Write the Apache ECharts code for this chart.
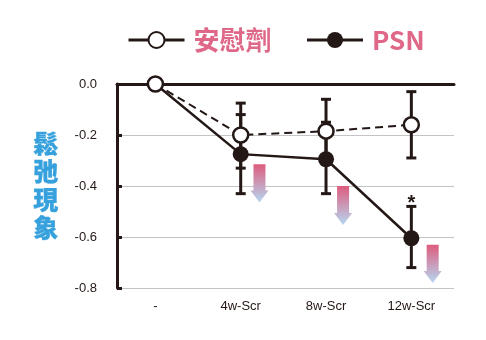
<!DOCTYPE html>
<html>
<head>
<meta charset="utf-8">
<script src="https://cdn.jsdelivr.net/npm/echarts@6/dist/echarts.min.js"></script>
<style>
  html, body { margin: 0; padding: 0; background: #fff; }
  #chart { width: 486px; height: 340px; }
</style>
</head>
<body>
<div id="chart"></div>
<script>
// Time points
const categories = ['-', '4w-Scr', '8w-Scr', '12w-Scr'];

// Mean change and error-bar ends (upper, lower) for each group
const placeboMean  = [0, -0.20, -0.185, -0.16];
const placeboUpper = [null, -0.075, -0.06, -0.03];
const placeboLower = [null, -0.33, -0.315, -0.29];

const psnMean  = [0, -0.275, -0.295, -0.605];
const psnUpper = [null, -0.12, -0.15, -0.48];
const psnLower = [null, -0.43, -0.43, -0.72];

// Significance marks above the PSN error bars
const psnMarks = ['', '', '', '*'];

// Decorative downward arrows: x position, top value, bottom value
const arrowX      = [1.22, 2.2, 3.25];
const arrowTop    = [-0.315, -0.40, -0.63];
const arrowBottom = [-0.465, -0.553, -0.78];

const yTicks = [0, -0.2, -0.4, -0.6, -0.8];

const INK = '#231815';
const PINK = '#df6889';
const BLUE = '#36a1dc';

function pairs(means) { return means.map((v, i) => [i, v]); }
function bars(upper, lower, marks) {
  const out = [];
  upper.forEach((u, i) => {
    if (u !== null) out.push([i, u, lower[i], marks ? marks[i] : '']);
  });
  return out;
}

function renderErrorBar(params, api) {
  const x = api.value(0);
  const top = api.coord([x, api.value(1)]);
  const bot = api.coord([x, api.value(2)]);
  const hw = 5;
  const style = { stroke: INK, lineWidth: 3 };
  const children = [
    { type: 'line', shape: { x1: top[0], y1: top[1], x2: bot[0], y2: bot[1] }, style },
    { type: 'line', shape: { x1: top[0] - hw, y1: top[1], x2: top[0] + hw, y2: top[1] }, style },
    { type: 'line', shape: { x1: bot[0] - hw, y1: bot[1], x2: bot[0] + hw, y2: bot[1] }, style }
  ];
  const mark = api.value(3);
  if (mark) {
    children.push({
      type: 'text',
      style: {
        text: mark, x: top[0], y: top[1] + 7,
        align: 'center', verticalAlign: 'bottom',
        fill: INK, font: 'bold 20px "Liberation Sans", Arial, sans-serif'
      }
    });
  }
  return { type: 'group', children };
}

function renderArrow(params, api) {
  const x = api.value(0);
  const t = api.coord([x, api.value(1)]);
  const b = api.coord([x, api.value(2)]);
  const shaft = 6, head = 9, headH = 12;
  const cx = t[0];
  const hy = b[1] - headH;
  return {
    type: 'polygon',
    shape: {
      points: [
        [cx - shaft, t[1]], [cx + shaft, t[1]], [cx + shaft, hy],
        [cx + head, hy], [cx, b[1]], [cx - head, hy], [cx - shaft, hy]
      ]
    },
    style: {
      fill: new echarts.graphic.LinearGradient(0, 0, 0, 1, [
        { offset: 0, color: '#dd5c7d' },
        { offset: 1, color: '#b6d7f1' }
      ])
    }
  };
}

const chart = echarts.init(document.getElementById('chart'), null, { renderer: 'canvas' });

chart.setOption({
  animation: false,
  backgroundColor: '#fff',
  grid: { left: 117, right: 32, top: 84, bottom: 52 },
  legend: {
    left: 127, top: 27, padding: 0,
    itemWidth: 56, itemHeight: 20, itemGap: 34,
    textStyle: {
      color: PINK, fontSize: 26, fontWeight: 'bold',
      fontFamily: '"Noto Sans CJK TC", "Noto Sans", sans-serif', padding: [0, 0, 0, 4]
    },
    data: [
      { name: '安慰劑', lineStyle: { type: 'solid', width: 3 } },
      { name: 'PSN', lineStyle: { type: 'solid', width: 3 } }
    ]
  },
  graphic: [{
    type: 'text', left: 33, top: 129,
    style: {
      text: '鬆\n弛\n現\n象', fill: BLUE,
      font: '900 25px "Noto Sans CJK TC", sans-serif', lineHeight: 28,
      stroke: BLUE, lineWidth: 0.3
    }
  }],
  xAxis: [{
    type: 'value', min: -0.45, max: 3.5,
    axisLine: { show: false }, axisTick: { show: false }, splitLine: { show: false },
    axisLabel: {
      customValues: categories.map((c, i) => i),
      formatter: v => categories[Math.round(v)],
      color: INK, fontSize: 13, margin: 12,
      fontFamily: '"Liberation Sans", Arial, sans-serif'
    }
  }, {
    type: 'value', min: -0.45, max: 3.5, position: 'top',
    axisLine: { show: true, onZero: false, lineStyle: { color: INK, width: 3 } },
    axisTick: { show: false }, axisLabel: { show: false }, splitLine: { show: false }
  }],
  yAxis: {
    type: 'value', min: -0.8, max: 0, interval: 0.2,
    axisLine: { show: true, onZero: false, lineStyle: { color: INK, width: 3 } },
    axisTick: { show: true, inside: true, length: 5, lineStyle: { color: INK, width: 3 } },
    axisLabel: {
      customValues: yTicks,
      formatter: v => v.toFixed(1),
      color: INK, fontSize: 13, margin: 20,
      fontFamily: '"Liberation Sans", Arial, sans-serif'
    },
    splitLine: { show: true, lineStyle: { color: '#c4c4c4', width: 1 } }
  },
  series: [
    {
      type: 'custom', name: 'arrows', renderItem: renderArrow, silent: true, z: 1,
      data: arrowX.map((x, i) => [x, arrowTop[i], arrowBottom[i]])
    },
    {
      type: 'custom', name: 'placeboErr', renderItem: renderErrorBar, z: 2,
      data: bars(placeboUpper, placeboLower)
    },
    {
      type: 'custom', name: 'psnErr', renderItem: renderErrorBar, z: 2,
      data: bars(psnUpper, psnLower, psnMarks)
    },
    {
      type: 'line', name: 'PSN', data: pairs(psnMean), z: 3,
      symbol: 'circle', symbolSize: 16,
      lineStyle: { color: INK, width: 2.5 },
      itemStyle: { color: INK, borderColor: INK, borderWidth: 0 }
    },
    {
      type: 'line', name: '安慰劑', data: pairs(placeboMean), z: 4,
      symbol: 'circle', symbolSize: 15,
      lineStyle: { color: INK, width: 2, type: [8, 5] },
      itemStyle: { color: '#fff', borderColor: INK, borderWidth: 2.5 }
    }
  ]
});
</script>
</body>
</html>
